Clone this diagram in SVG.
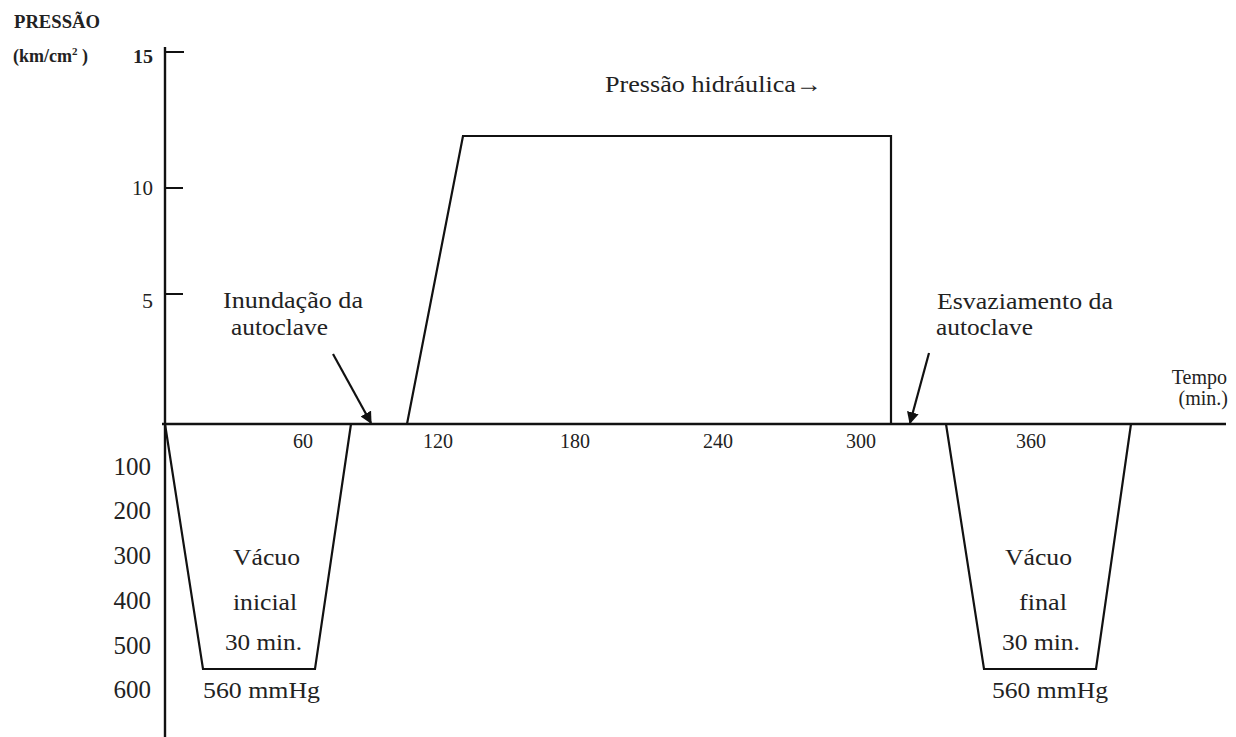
<svg xmlns="http://www.w3.org/2000/svg" width="1236" height="737" viewBox="0 0 1236 737">
<defs>
<style>
text{font-family:"Liberation Serif","Times New Roman",serif;fill:#222}
.ln{fill:none;stroke:#111;stroke-width:2.2}
.ax{fill:none;stroke:#111;stroke-width:2.4}
.b{font-weight:bold}
.s18{font-size:18px}
.s20{font-size:20px}
.s22{font-size:22px}
.s24{font-size:24px}
.s25{font-size:25px}
.m{text-anchor:middle}
.e{text-anchor:end}
</style>
<marker id="ah" viewBox="0 0 10 10" refX="9" refY="5" markerWidth="12" markerHeight="12" orient="auto" markerUnits="userSpaceOnUse">
<path d="M0,0 L10,5 L0,10 z" fill="#111"/>
</marker>
</defs>
<rect width="1236" height="737" fill="#fff"/>
<g id="axes">
<path class="ax" d="M165,47 V737"/>
<path class="ax" d="M162,424 H1226"/>
<path class="ln" d="M165,52 H184 M165,188 H183 M165,294 H183"/>
</g>
<g id="axis-labels">
<text class="s18 b" x="14" y="28" textLength="86" lengthAdjust="spacingAndGlyphs">PRESSÃO</text>
<text class="s18 b" x="13" y="62">(km/cm<tspan font-size="11" dy="-7">2</tspan><tspan dy="7"> )</tspan></text>
<text class="s18 b" x="133" y="63" textLength="20" lengthAdjust="spacingAndGlyphs">15</text>
<text class="s22" x="132" y="195" textLength="21" lengthAdjust="spacingAndGlyphs">10</text>
<text class="s22" x="142" y="308">5</text>
<text class="s20 e" x="1227" y="384">Tempo</text>
<text class="s20 e" x="1228" y="405">(min.)</text>
<text class="s20 m" x="303" y="448">60</text>
<text class="s20 m" x="438" y="448">120</text>
<text class="s20 m" x="575" y="448">180</text>
<text class="s20 m" x="718" y="448">240</text>
<text class="s20 m" x="861" y="448">300</text>
<text class="s20 m" x="1031" y="448">360</text>
<text class="s25 e" x="151" y="475">100</text>
<text class="s25 e" x="151" y="519">200</text>
<text class="s25 e" x="151" y="564">300</text>
<text class="s25 e" x="151" y="609">400</text>
<text class="s25 e" x="151" y="654">500</text>
<text class="s25 e" x="151" y="698">600</text>
</g>
<g id="connectors">
<path class="ln" d="M165,424 L203,669 L315,669 L351,424"/>
<path class="ln" d="M407,424 L463,136 L891,136 L891,424"/>
<path class="ln" d="M946,424 L984,669 L1096,669 L1131,424"/>
<path class="ln" d="M333,354 L371,423" marker-end="url(#ah)"/>
<path class="ln" d="M929,353 L910,423" marker-end="url(#ah)"/>
</g>
<g id="node-hidraulica">
<text class="s24" x="605" y="92" textLength="217" lengthAdjust="spacingAndGlyphs">Pressão hidráulica→</text>
</g>
<g id="node-inundacao">
<text class="s24" x="223" y="308" textLength="140" lengthAdjust="spacingAndGlyphs">Inundação da</text>
<text class="s24" x="231" y="335" textLength="97" lengthAdjust="spacingAndGlyphs">autoclave</text>
</g>
<g id="node-esvaziamento">
<text class="s24" x="937" y="309" textLength="176" lengthAdjust="spacingAndGlyphs">Esvaziamento da</text>
<text class="s24" x="936" y="335" textLength="97" lengthAdjust="spacingAndGlyphs">autoclave</text>
</g>
<g id="node-vacuo-inicial">
<text class="s24" x="233" y="565" textLength="67" lengthAdjust="spacingAndGlyphs">Vácuo</text>
<text class="s24" x="233" y="610" textLength="64" lengthAdjust="spacingAndGlyphs">inicial</text>
<text class="s24" x="225" y="650" textLength="77" lengthAdjust="spacingAndGlyphs">30 min.</text>
<text class="s24" x="203" y="698" textLength="117" lengthAdjust="spacingAndGlyphs">560 mmHg</text>
</g>
<g id="node-vacuo-final">
<text class="s24" x="1005" y="565" textLength="67" lengthAdjust="spacingAndGlyphs">Vácuo</text>
<text class="s24" x="1019" y="610" textLength="48" lengthAdjust="spacingAndGlyphs">final</text>
<text class="s24" x="1002" y="650" textLength="78" lengthAdjust="spacingAndGlyphs">30 min.</text>
<text class="s24" x="992" y="698" textLength="116" lengthAdjust="spacingAndGlyphs">560 mmHg</text>
</g>
</svg>
